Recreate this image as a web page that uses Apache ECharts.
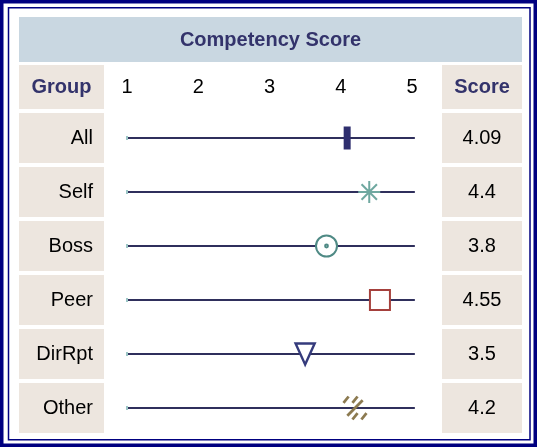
<!DOCTYPE html>
<html>
<head>
<meta charset="utf-8">
<script src="https://cdn.jsdelivr.net/npm/echarts@6/dist/echarts.min.js"></script>
<style>
  html, body { margin: 0; padding: 0; background: #fff; }
  #main { width: 538px; height: 447px; }
</style>
</head>
<body>
<div id="main"></div>
<script>
// data
var groups = ['All', 'Self', 'Boss', 'Peer', 'DirRpt', 'Other'];
var scores = [4.09, 4.4, 3.8, 4.55, 3.5, 4.2];
var scoreLabels = ['4.09', '4.4', '3.8', '4.55', '3.5', '4.2'];
var scaleTicks = [1, 2, 3, 4, 5];
var trackRange = [1, 5.04];

var FONT = '"Liberation Sans", Arial, sans-serif';
var NAVY = '#000080';
var HEAD = '#33336b';
var CELL = '#ede6df';

// one marker look per group
var markers = [
    {symbol: 'rect', size: [7, 23], color: '#2e2e6e', border: '#2e2e6e', width: 0},
    {symbol: 'path://M0,-10L0,10M-10,0L10,0M-7,-7L7,7M-7,7L7,-7', size: 22, color: 'none', border: '#6fa8a0', width: 2},
    {symbol: 'path://M-9,0A9,9 0 1,0 9,0A9,9 0 1,0 -9,0ZM-1.2,0A1.2,1.2 0 1,0 1.2,0A1.2,1.2 0 1,0 -1.2,0Z', size: 21, color: '#fff', border: '#4f8a85', width: 2},
    {symbol: 'rect', size: 20, color: '#fff', border: '#a5403c', width: 2},
    {symbol: 'triangle', size: [19, 21], rotate: 180, color: '#fff', border: '#353b7c', width: 2.5},
    {symbol: 'path://M-9,-4L-5,-9M-2,-4L2,-9M-6,6L6,-6M-2,9L2,4M5,9L9,4', size: 23, color: 'none', border: '#8c7a50', width: 2.8}
];

var chart = echarts.init(document.getElementById('main'));

var series = groups.map(function (g) {
    return {
        type: 'line',
        clip: false,
        silent: true,
        symbol: 'none',
        showSymbol: true,
        lineStyle: {color: '#2f2f5c', width: 2},
        data: [
            {value: [trackRange[0], g], symbol: 'rect', symbolSize: [2, 4], itemStyle: {color: '#9cc6c6'}},
            [trackRange[1], g]
        ]
    };
});

series.push({
    type: 'scatter',
    clip: false,
    z: 5,
    data: scores.map(function (s, i) {
        var m = markers[i];
        return {
            value: [s, groups[i]],
            symbol: m.symbol,
            symbolSize: m.size,
            symbolRotate: m.rotate || 0,
            itemStyle: {color: m.color, borderColor: m.border, borderWidth: m.width, opacity: 1}
        };
    })
});

var option = {
    backgroundColor: '#fff',
    animation: false,
    textStyle: {fontFamily: FONT},
    grid: {left: 127, right: 126, top: 111, height: 324},
    xAxis: {
        type: 'value',
        position: 'top',
        min: 1,
        max: 5,
        interval: 1,
        axisLine: {show: false},
        axisTick: {show: false},
        splitLine: {show: false},
        axisLabel: {
            margin: 14,
            fontSize: 20,
            color: '#000',
            fontFamily: FONT,
            formatter: function (v) {
                return scaleTicks.indexOf(v) >= 0 ? String(v) : '';
            }
        }
    },
    yAxis: [{
        type: 'category',
        data: groups,
        inverse: true,
        axisLine: {show: false},
        axisTick: {show: false},
        splitLine: {show: false},
        axisLabel: {
            margin: 23,
            fontSize: 20,
            color: '#000',
            fontFamily: FONT,
            align: 'right',
            width: 74,
            height: 50,
            lineHeight: 50,
            padding: [0, 11, 0, 0],
            backgroundColor: CELL
        }
    }, {
        type: 'category',
        data: groups,
        inverse: true,
        position: 'right',
        axisLine: {show: false},
        axisTick: {show: false},
        splitLine: {show: false},
        axisLabel: {
            margin: 70,
            fontSize: 20,
            color: '#000',
            fontFamily: FONT,
            align: 'center',
            width: 80,
            height: 50,
            lineHeight: 50,
            backgroundColor: CELL,
            formatter: function (v) {
                return scoreLabels[groups.indexOf(v)];
            }
        }
    }],
    graphic: [
        // double frame
        {type: 'rect', shape: {x: 1.75, y: 1.75, width: 533.5, height: 443.5}, style: {fill: null, stroke: NAVY, lineWidth: 3.5}, silent: true},
        {type: 'rect', shape: {x: 8.5, y: 7.75, width: 521.5, height: 432}, style: {fill: null, stroke: NAVY, lineWidth: 1.5}, silent: true},
        // title band
        {type: 'rect', shape: {x: 19, y: 17, width: 503, height: 45}, style: {fill: '#c9d7e1'}, silent: true},
        {type: 'text', x: 270.5, y: 40, style: {text: 'Competency Score', fill: HEAD, font: 'bold 20px ' + FONT, textAlign: 'center', textVerticalAlign: 'middle'}, silent: true},
        // header cells
        {type: 'rect', shape: {x: 19, y: 65, width: 85, height: 44}, style: {fill: CELL}, silent: true},
        {type: 'text', x: 61.5, y: 87, style: {text: 'Group', fill: HEAD, font: 'bold 20px ' + FONT, textAlign: 'center', textVerticalAlign: 'middle'}, silent: true},
        {type: 'rect', shape: {x: 442, y: 65, width: 80, height: 44}, style: {fill: CELL}, silent: true},
        {type: 'text', x: 482, y: 87, style: {text: 'Score', fill: HEAD, font: 'bold 20px ' + FONT, textAlign: 'center', textVerticalAlign: 'middle'}, silent: true}
    ],
    series: series
};

chart.setOption(option);
</script>
</body>
</html>
